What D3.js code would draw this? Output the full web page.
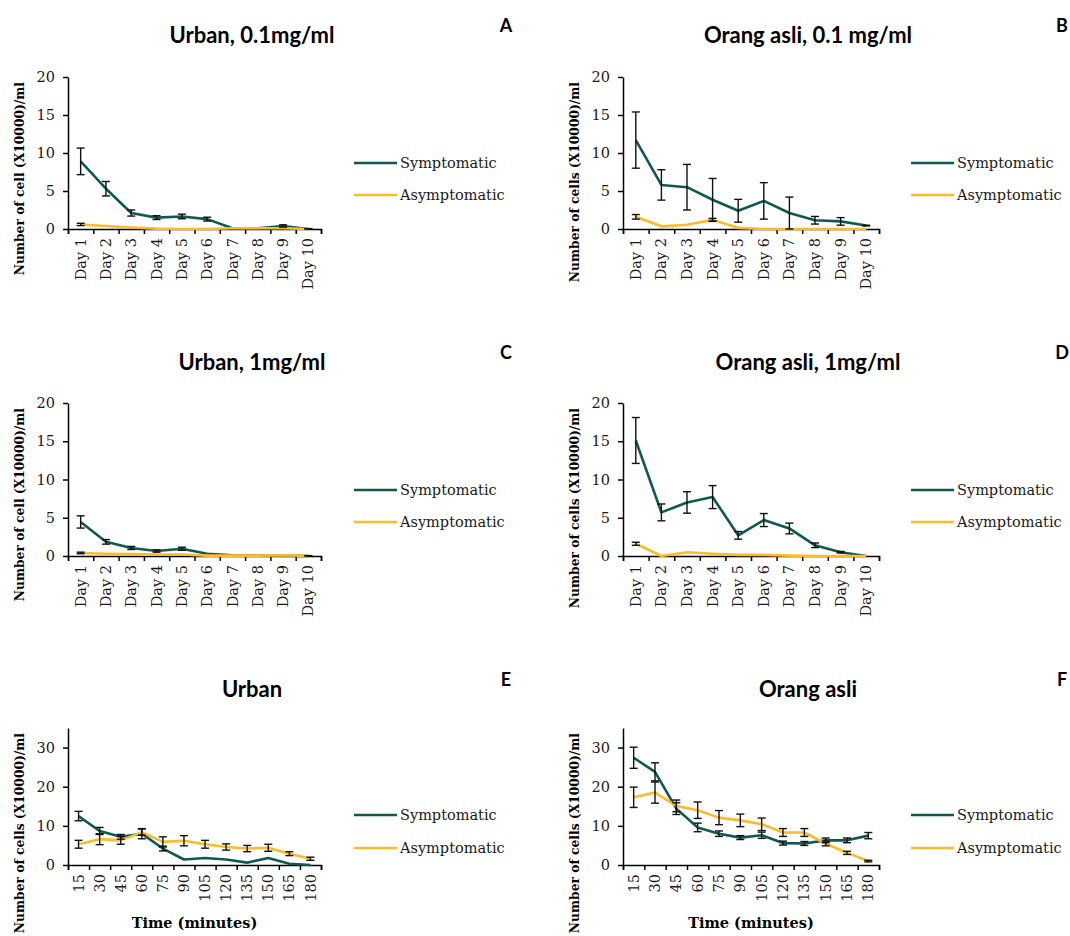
<!DOCTYPE html>
<html>
<head>
<meta charset="utf-8">
<script src="https://cdn.jsdelivr.net/npm/d3@7"></script>
<style>
  body { margin: 0; background: #fff; }
  .tick text { font-family: "DejaVu Serif", serif; font-size: 14.5px; fill: #1a1a1a; }
  .domain, .tick line { stroke: #000; stroke-width: 1.5px; }
</style>
</head>
<body>
<script>
// categories
const days = ["Day 1", "Day 2", "Day 3", "Day 4", "Day 5", "Day 6", "Day 7", "Day 8", "Day 9", "Day 10"];
const minutes = ["15", "30", "45", "60", "75", "90", "105", "120", "135", "150", "165", "180"];
const dayTicks = [0, 5, 10, 15, 20];
const timeTicks = [0, 10, 20, 30];

// A - Urban, 0.1mg/ml
const urbanLowSym = [8.9, 5.3, 2.1, 1.5, 1.65, 1.3, 0.1, 0.1, 0.4, 0];
const urbanLowSymErr = [1.75, 0.95, 0.4, 0.25, 0.3, 0.25, 0, 0, 0.15, 0.05];
const urbanLowAsym = [0.6, 0.4, 0.2, 0.05, 0, 0, 0.1, 0.1, 0.1, 0];
const urbanLowAsymErr = [0.15, 0, 0, 0, 0, 0, 0, 0, 0, 0];

// B - Orang asli, 0.1 mg/ml
const asliLowSym = [11.7, 5.8, 5.5, 3.85, 2.4, 3.7, 2.1, 1.15, 1.0, 0.45];
const asliLowSymErr = [3.7, 2.0, 3.0, 2.8, 1.5, 2.4, 2.1, 0.5, 0.5, 0.05];
const asliLowAsym = [1.6, 0.35, 0.55, 1.2, 0.15, 0, 0, 0, 0, 0];
const asliLowAsymErr = [0.3, 0, 0, 0.2, 0, 0, 0, 0, 0, 0];

// C - Urban, 1mg/ml
const urbanHighSym = [4.45, 1.85, 1.05, 0.65, 0.95, 0.3, 0.1, 0.05, 0.05, 0];
const urbanHighSymErr = [0.8, 0.3, 0.2, 0.15, 0.2, 0, 0, 0, 0, 0.05];
const urbanHighAsym = [0.4, 0.3, 0.25, 0.2, 0.2, 0.05, 0.05, 0.05, 0.1, 0];
const urbanHighAsymErr = [0.1, 0, 0, 0, 0, 0, 0, 0, 0, 0];

// D - Orang asli, 1mg/ml
const asliHighSym = [15.1, 5.7, 7.0, 7.7, 2.7, 4.7, 3.6, 1.4, 0.5, 0];
const asliHighSymErr = [3.0, 1.1, 1.4, 1.5, 0.5, 0.85, 0.7, 0.3, 0.1, 0];
const asliHighAsym = [1.6, 0, 0.5, 0.3, 0.15, 0.15, 0.05, 0, 0, 0];
const asliHighAsymErr = [0.2, 0, 0, 0, 0, 0, 0, 0, 0, 0];

// E - Urban, time course
const urbanTimeSym = [12.5, 8.7, 7.2, 8.0, 4.2, 1.4, 1.8, 1.4, 0.6, 1.8, 0.3, 0];
const urbanTimeSymErr = [1.2, 0.9, 0.6, 1.3, 0.6, 0, 0, 0, 0, 0, 0, 0];
const urbanTimeAsym = [5.3, 6.6, 6.3, 8.4, 5.9, 6.2, 5.3, 4.6, 4.2, 4.4, 2.9, 1.6];
const urbanTimeAsymErr = [1.0, 1.4, 1.0, 0.8, 1.3, 1.3, 1.0, 0.8, 0.8, 0.9, 0.5, 0.4];

// F - Orang asli, time course
const asliTimeSym = [27.4, 23.8, 14.4, 9.6, 8.0, 7.0, 7.6, 5.6, 5.5, 6.3, 6.3, 7.5];
const asliTimeSymErr = [2.7, 2.3, 1.5, 1.1, 0.7, 0.5, 0.8, 0.5, 0.5, 0.6, 0.6, 0.8];
const asliTimeAsym = [17.3, 18.5, 15.1, 14.0, 12.1, 11.4, 10.4, 8.3, 8.3, 5.5, 3.1, 1.0];
const asliTimeAsymErr = [2.6, 2.7, 1.5, 2.1, 1.8, 1.6, 1.6, 1.0, 1.0, 0.6, 0.4, 0.2];

const seriesNames = ["Symptomatic", "Asymptomatic"];
const colors = ["#0f5a50", "#fbbb2a"];

const svg = d3.select("body").append("svg")
  .attr("width", 1070)
  .attr("height", 936);

const cols = [
  { x0: 68, x1: 321, titleX: 252, letterX: 506, legX: 354 },
  { x0: 623, x1: 879, titleX: 808, letterX: 1062, legX: 911 }
];
const rows = [
  { top: 77, zero: 229, titleY: 43, letterY: 32, leg: [163, 195] },
  { top: 403, zero: 556, titleY: 370, letterY: 359, leg: [490, 522] },
  { top: 728, zero: 865, titleY: 697, letterY: 686, leg: [815, 848] }
];

const panels = [
  { col: 0, row: 0, title: "Urban, 0.1mg/ml", letter: "A", cats: days, ticks: dayTicks, max: 20,
    ylab: "Number of cell (X10000)/ml", vals: [urbanLowSym, urbanLowAsym], errs: [urbanLowSymErr, urbanLowAsymErr] },
  { col: 1, row: 0, title: "Orang asli, 0.1 mg/ml", letter: "B", cats: days, ticks: dayTicks, max: 20,
    ylab: "Number of cells (X10000)/ml", vals: [asliLowSym, asliLowAsym], errs: [asliLowSymErr, asliLowAsymErr] },
  { col: 0, row: 1, title: "Urban, 1mg/ml", letter: "C", cats: days, ticks: dayTicks, max: 20,
    ylab: "Number of cell (X10000)/ml", vals: [urbanHighSym, urbanHighAsym], errs: [urbanHighSymErr, urbanHighAsymErr] },
  { col: 1, row: 1, title: "Orang asli, 1mg/ml", letter: "D", cats: days, ticks: dayTicks, max: 20,
    ylab: "Number of cells (X10000)/ml", vals: [asliHighSym, asliHighAsym], errs: [asliHighSymErr, asliHighAsymErr] },
  { col: 0, row: 2, title: "Urban", letter: "E", cats: minutes, ticks: timeTicks, max: 35, xlab: "Time (minutes)",
    ylab: "Number of cells (X10000)/ml", vals: [urbanTimeSym, urbanTimeAsym], errs: [urbanTimeSymErr, urbanTimeAsymErr] },
  { col: 1, row: 2, title: "Orang asli", letter: "F", cats: minutes, ticks: timeTicks, max: 35, xlab: "Time (minutes)",
    ylab: "Number of cells (X10000)/ml", vals: [asliTimeSym, asliTimeAsym], errs: [asliTimeSymErr, asliTimeAsymErr] }
];

panels.forEach(p => {
  const c = cols[p.col], r = rows[p.row];
  const g = svg.append("g");

  const x = d3.scaleBand().domain(p.cats).range([c.x0, c.x1]);
  const xEdge = d3.scaleLinear().domain([0, p.cats.length]).range([c.x0, c.x1]);
  const y = d3.scaleLinear().domain([0, p.max]).range([r.zero, r.top]);
  const cx = d => x(d) + x.bandwidth() / 2;

  // title + panel letter
  g.append("text")
    .attr("x", c.titleX).attr("y", r.titleY)
    .attr("text-anchor", "middle")
    .style("font-family", "Lato, sans-serif").style("font-weight", "bold").style("font-size", "22px")
    .text(p.title);
  g.append("text")
    .attr("x", c.letterX).attr("y", r.letterY)
    .attr("text-anchor", "middle")
    .style("font-family", "Lato, sans-serif").style("font-weight", "bold").style("font-size", "18px")
    .text(p.letter);

  // y axis
  g.append("g")
    .attr("transform", "translate(" + c.x0 + ",0)")
    .call(d3.axisLeft(y).tickValues(p.ticks).tickSize(5).tickPadding(8).tickSizeOuter(0));

  // x axis: tick marks on category edges, labels on centres
  g.append("g")
    .attr("transform", "translate(0," + r.zero + ")")
    .call(d3.axisBottom(xEdge).tickValues(d3.range(p.cats.length + 1)).tickFormat("").tickSize(5));
  g.append("g")
    .attr("transform", "translate(0," + r.zero + ")")
    .call(d3.axisBottom(x).tickSize(0))
    .call(a => a.select(".domain").remove())
    .selectAll("text")
    .attr("transform", "rotate(-90)")
    .attr("x", -9).attr("y", 0).attr("dy", "0.35em")
    .attr("text-anchor", "end");

  // y label
  g.append("text")
    .attr("transform", "translate(" + (c.x0 - 48) + "," + (r.top + 5) + ") rotate(-90)")
    .attr("text-anchor", "end").attr("dy", "0.35em")
    .style("font-family", "DejaVu Serif, serif").style("font-weight", "bold").style("font-size", "12.3px")
    .text(p.ylab);

  if (p.xlab) {
    g.append("text")
      .attr("x", (c.x0 + c.x1) / 2).attr("y", 928)
      .attr("text-anchor", "middle")
      .style("font-family", "DejaVu Serif, serif").style("font-weight", "bold").style("font-size", "14.5px")
      .text(p.xlab);
  }

  const line = d3.line().x((d, i) => cx(p.cats[i])).y(d => y(d));

  p.vals.forEach((vals, s) => {
    g.append("path")
      .datum(vals)
      .attr("fill", "none")
      .attr("stroke", colors[s])
      .attr("stroke-width", 2.6)
      .attr("stroke-linejoin", "round")
      .attr("d", line);
  });

  // error bars
  p.vals.forEach((vals, s) => {
    const pts = vals.map((v, i) => ({ cat: p.cats[i], v: v, e: p.errs[s][i] })).filter(d => d.e > 0);
    const eb = g.append("g").attr("stroke", "#111").attr("stroke-width", 1.4);
    eb.selectAll(".stem").data(pts).join("line")
      .attr("x1", d => cx(d.cat)).attr("x2", d => cx(d.cat))
      .attr("y1", d => y(d.v + d.e)).attr("y2", d => y(Math.max(0, d.v - d.e)));
    eb.selectAll(".capT").data(pts).join("line")
      .attr("x1", d => cx(d.cat) - 4).attr("x2", d => cx(d.cat) + 4)
      .attr("y1", d => y(d.v + d.e)).attr("y2", d => y(d.v + d.e));
    eb.selectAll(".capB").data(pts).join("line")
      .attr("x1", d => cx(d.cat) - 4).attr("x2", d => cx(d.cat) + 4)
      .attr("y1", d => y(Math.max(0, d.v - d.e))).attr("y2", d => y(Math.max(0, d.v - d.e)));
  });

  // legend
  seriesNames.forEach((name, s) => {
    const ly = r.leg[s];
    g.append("line")
      .attr("x1", c.legX).attr("x2", c.legX + 43)
      .attr("y1", ly).attr("y2", ly)
      .attr("stroke", colors[s]).attr("stroke-width", 2.6);
    g.append("text")
      .attr("x", c.legX + 46).attr("y", ly).attr("dy", "0.35em")
      .style("font-family", "DejaVu Serif, serif").style("font-size", "14.5px").style("fill", "#1a1a1a")
      .text(name);
  });
});
</script>
</body>
</html>
